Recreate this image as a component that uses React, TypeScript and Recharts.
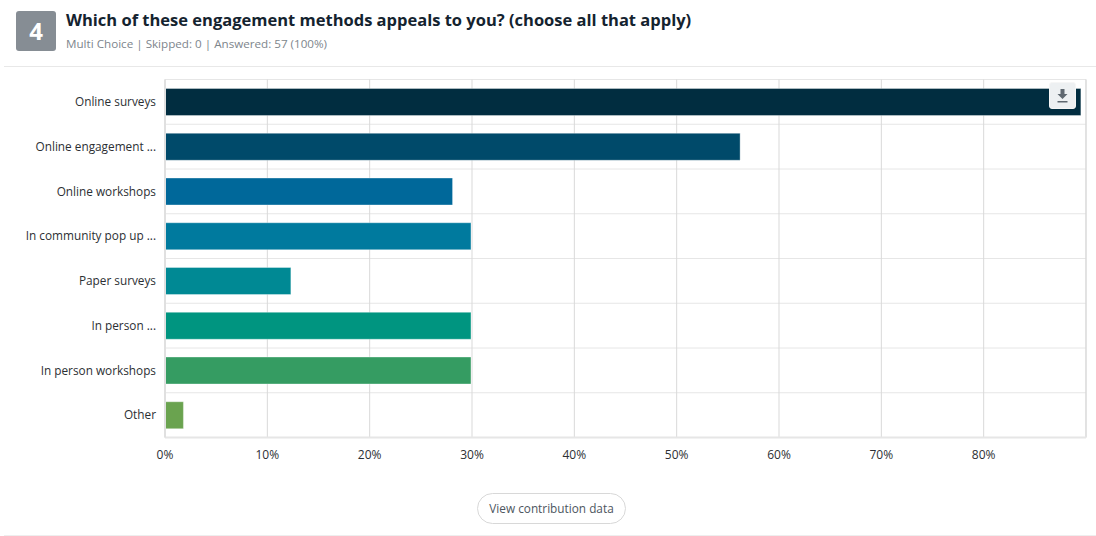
import React from "react";
import { BarChart, Bar, XAxis, YAxis, CartesianGrid, Cell, ReferenceLine } from "recharts";

const methods = [
  "Online surveys",
  "Online engagement ...",
  "Online workshops",
  "In community pop up ...",
  "Paper surveys",
  "In person ...",
  "In person workshops",
  "Other",
];
const percentages = [89.5, 56.2, 28.1, 29.9, 12.3, 29.9, 29.9, 1.8];
const barColors = ["#012d40", "#004a6a", "#00689a", "#007a9e", "#008994", "#009580", "#359c62", "#6aa34f"];
const percentTicks = [0, 10, 20, 30, 40, 50, 60, 70, 80];
const rows = methods.map((method, i) => ({ method, percent: percentages[i] }));

const FONT = '"Open Sans", sans-serif';

// Row separators sit on the category band edges rather than on band centres.
const bandEdges = ({ offset }: any) =>
  Array.from({ length: methods.length + 1 }, (_, i) => offset.top + (i * offset.height) / methods.length);

export default function App() {
  return (
    <div style={{ position: "absolute", left: 0, top: 0, width: 1096, height: 536, background: "#fff", overflow: "hidden", fontFamily: FONT }}>
      <div style={{ position: "absolute", left: 16, top: 11, width: 40, height: 40, borderRadius: 3, background: "#868d94", color: "#fff", fontSize: 24, fontWeight: 700, lineHeight: "40px", textAlign: "center" }}>4</div>
      <div style={{ position: "absolute", left: 66, top: 9, fontSize: 16.5, fontWeight: 700, lineHeight: "22px", color: "#14232f", whiteSpace: "nowrap" }}>
        Which of these engagement methods appeals to you? (choose all that apply)
      </div>
      <div style={{ position: "absolute", left: 66, top: 35, fontSize: 11.65, lineHeight: "18px", color: "#7d858c", whiteSpace: "nowrap" }}>
        Multi Choice | Skipped: 0 | Answered: 57 (100%)
      </div>
      <div style={{ position: "absolute", left: 4, right: 0, top: 66, height: 1, background: "#e8e8e8" }} />

      <BarChart
        width={1096}
        height={536}
        data={rows}
        layout="vertical"
        barCategoryGap={9}
        margin={{ top: 79.5, right: 10, bottom: 68.5, left: 5 }}
        style={{ position: "absolute", left: 0, top: 0 }}
      >
        <CartesianGrid stroke="#e6e6e6" strokeWidth={1} vertical={false} horizontalCoordinatesGenerator={bandEdges} />
        <CartesianGrid stroke="#d9d9d9" strokeWidth={1} horizontal={false} />
        <ReferenceLine x={90} stroke="#d9d9d9" />
        <XAxis
          type="number"
          domain={[0, 90]}
          ticks={percentTicks}
          tickFormatter={(v: number) => `${v}%`}
          tickLine={false}
          axisLine={{ stroke: "#e6e6e6", strokeWidth: 2 }}
          tickMargin={7}
          tick={{ fontSize: 12, fill: "#2c2f33", fontFamily: FONT }}
        />
        <YAxis
          type="category"
          dataKey="method"
          width={160}
          interval={0}
          tickLine={false}
          axisLine={{ stroke: "#e0e0e0", strokeWidth: 2 }}
          tickMargin={3}
          tick={{ fontSize: 11.8, fill: "#2c2f33", fontFamily: FONT }}
        />
        <Bar dataKey="percent" isAnimationActive={false} stroke="#ffffff" strokeOpacity={0.35}>
          {rows.map((row, i) => (
            <Cell key={row.method} fill={barColors[i]} />
          ))}
        </Bar>
      </BarChart>

      <div style={{ position: "absolute", left: 1049, top: 82, width: 27, height: 27, borderRadius: 3, background: "#edf0f2", border: "1px solid #f6f6f6", boxSizing: "border-box" }}>
        <svg width="25" height="25" viewBox="0 0 25 25">
          <path d="M10.5 6h4v5h3l-5 5-5-5h3z M7.5 18h10v1.6h-10z" fill="#5f6870" />
        </svg>
      </div>

      <div style={{ position: "absolute", left: 477, top: 493, width: 149, height: 31, boxSizing: "border-box", border: "1px solid #d8d8d8", borderRadius: 16, fontSize: 11.8, lineHeight: "29px", textAlign: "center", color: "#4d5660" }}>
        View contribution data
      </div>
      <div style={{ position: "absolute", left: 4, right: 0, top: 535, height: 1, background: "#eeeeee" }} />
    </div>
  );
}
